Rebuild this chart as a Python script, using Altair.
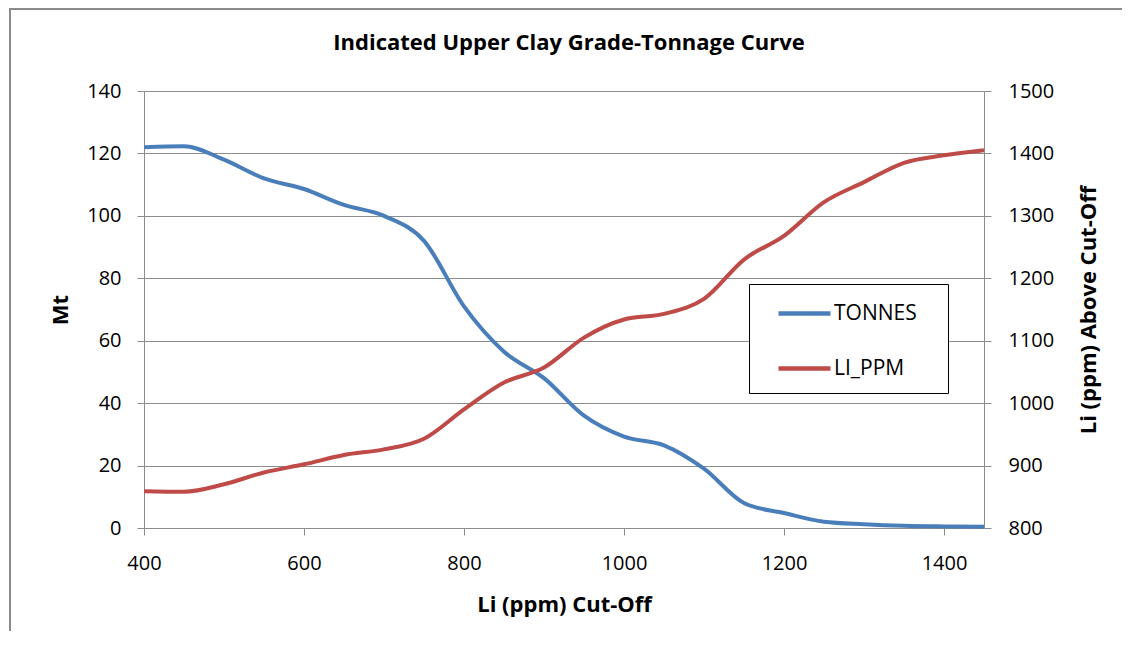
import altair as alt
import pandas as pd

cutoff = [400, 450, 500, 550, 600, 650, 700, 750, 800, 850, 900,
          950, 1000, 1050, 1100, 1150, 1200, 1250, 1300, 1350, 1400, 1450]
tonnes = [122.0, 122.3, 118.0, 112.0, 108.6, 103.5, 100.0, 92.0, 71.0, 56.5, 48.0,
          36.0, 29.3, 26.5, 19.0, 8.0, 4.8, 2.0, 1.2, 0.7, 0.5, 0.4]
li_ppm = [859, 858, 870, 889, 902, 917, 926, 943, 990, 1033, 1057,
          1105, 1134, 1143, 1167, 1230, 1268, 1322, 1354, 1385, 1397, 1405]

series_names = ["TONNES", "LI_PPM"]
series_colors = ["#4a7ebb", "#be4b48"]
mt_ticks = [0, 20, 40, 60, 80, 100, 120, 140]
ppm_ticks = [800, 900, 1000, 1100, 1200, 1300, 1400, 1500]
x_ticks = [400, 600, 800, 1000, 1200, 1400]

FONT = "Open Sans"
GRAY = "#8c8c8c"

df = pd.DataFrame({"cutoff": cutoff, "TONNES": tonnes, "LI_PPM": li_ppm})
long = df.melt("cutoff", var_name="series", value_name="value")

# legend line symbol; the trailing move-to only widens the legend box
color = alt.Color(
    "series:N",
    scale=alt.Scale(domain=series_names, range=series_colors),
    legend=alt.Legend(
        orient="none", legendX=605, legendY=193, title=None,
        strokeColor="black", fillColor="white", padding=14,
        symbolType="M-2,0H2M9.2,0", symbolSize=676, symbolStrokeWidth=4.5,
        rowPadding=29, symbolOffset=26, labelOffset=14,
        labelFont=FONT, labelFontSize=21, labelColor="black", labelLimit=300,
    ),
)

x = alt.X(
    "cutoff:Q",
    scale=alt.Scale(domain=[400, 1450], nice=False, zero=False),
    axis=alt.Axis(
        title="Li (ppm) Cut-Off", values=x_ticks, grid=False, format="d",
        labelFlush=False,
        domainColor=GRAY, tickColor=GRAY, tickSize=7, labelPadding=18,
        labelFont=FONT, labelFontSize=20, labelColor="black",
        titleFont=FONT, titleFontSize=22, titleFontWeight="bold", titleColor="black",
        titlePadding=21,
    ),
)

tonnes_line = alt.Chart(long).transform_filter(alt.datum.series == "TONNES").mark_line(
    strokeWidth=4, interpolate="monotone"
).encode(
    x=x,
    y=alt.Y(
        "value:Q",
        scale=alt.Scale(domain=[0, 140], nice=False),
        axis=alt.Axis(
            title="Mt", values=mt_ticks, grid=True, gridColor=GRAY, gridWidth=1,
            format="d",
            domainColor=GRAY, tickColor=GRAY, tickSize=7, labelPadding=16,
            labelFont=FONT, labelFontSize=20, labelColor="black",
            titleFont=FONT, titleFontSize=22, titleFontWeight="bold", titleColor="black",
            titlePadding=14,
        ),
    ),
    color=color,
)

ppm_line = alt.Chart(long).transform_filter(alt.datum.series == "LI_PPM").mark_line(
    strokeWidth=4, interpolate="monotone"
).encode(
    x=x,
    y=alt.Y(
        "value:Q",
        scale=alt.Scale(domain=[800, 1500], nice=False, zero=False),
        axis=alt.Axis(
            orient="right", title="Li (ppm) Above Cut-Off", values=ppm_ticks, grid=False,
            format="d",
            domainColor=GRAY, tickColor=GRAY, tickSize=7, labelPadding=17,
            labelFont=FONT, labelFontSize=20, labelColor="black",
            titleFont=FONT, titleFontSize=22, titleFontWeight="bold", titleColor="black",
            titleAngle=270, titleBaseline="top", titlePadding=25,
        ),
    ),
    color=color,
)

frame_src = pd.DataFrame({"k": [0]})
frame_left = alt.Chart(frame_src).mark_rule(color=GRAY, strokeWidth=2).encode(
    x=alt.value(-134), y=alt.value(-82), y2=alt.value(540)
)
frame_top = alt.Chart(frame_src).mark_rule(color=GRAY, strokeWidth=2).encode(
    x=alt.value(-135), x2=alt.value(978), y=alt.value(-82), y2=alt.value(-82)
)

chart = alt.layer(tonnes_line, ppm_line, frame_left, frame_top).resolve_scale(
    y="independent"
).properties(
    width=840, height=437,
    padding={"left": 0, "top": 0, "right": 0, "bottom": 0},
    title=alt.TitleParams(
        "Indicated Upper Clay Grade-Tonnage Curve", font=FONT, fontSize=22,
        fontWeight="bold", color="black", offset=-47, dx=5,
    ),
).configure_view(stroke=None).configure(background="white")

chart.save("out.html", embed_options={"renderer": "svg", "actions": False})
